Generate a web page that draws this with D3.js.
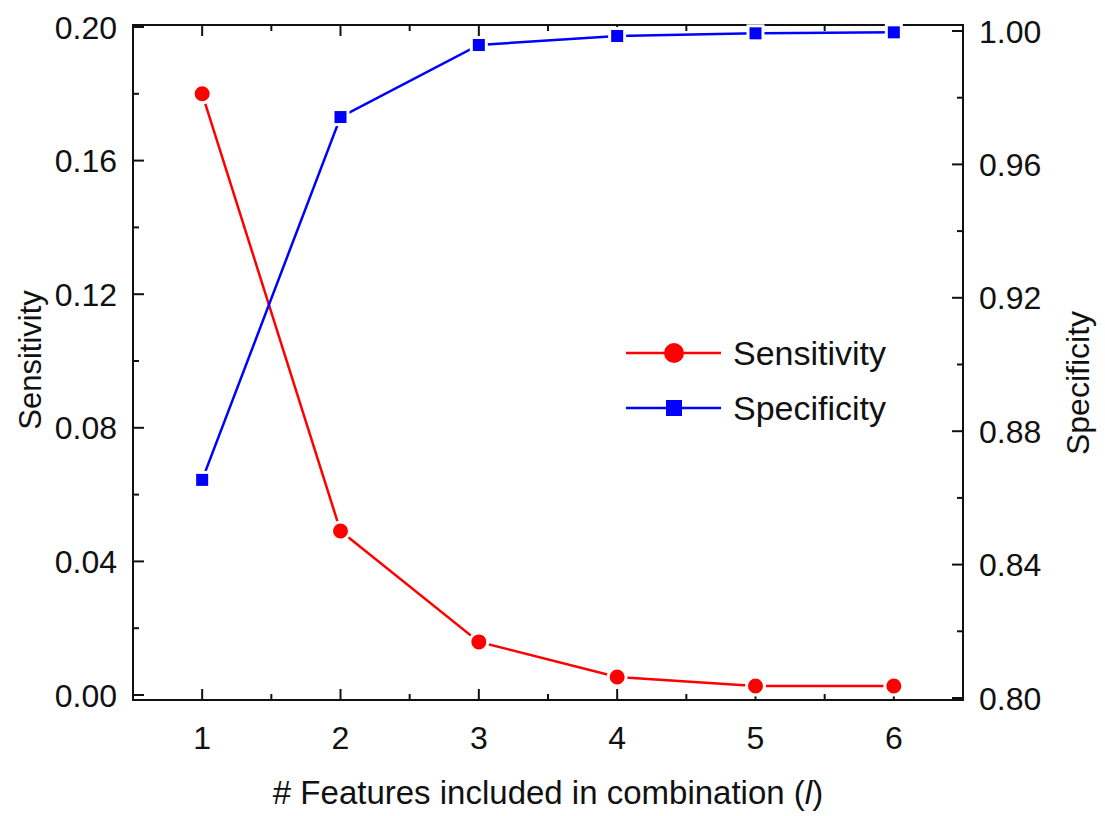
<!DOCTYPE html>
<html>
<head>
<meta charset="utf-8">
<script src="https://d3js.org/d3.v7.min.js"></script>
<style>
  body { margin: 0; background: #fff; }
  svg text { font-family: "Liberation Sans", Arial, sans-serif; fill: #111; }
</style>
</head>
<body>
<svg id="chart" width="1105" height="816"></svg>
<script>
// data
const features = [1, 2, 3, 4, 5, 6];
const sensitivity = [0.180, 0.0491, 0.0159, 0.0054, 0.0027, 0.0027];
const specificity = [0.8654, 0.9742, 0.9958, 0.9985, 0.9993, 0.9996];
const leftTicks = [0.00, 0.04, 0.08, 0.12, 0.16, 0.20];
const rightTicks = [0.80, 0.84, 0.88, 0.92, 0.96, 1.00];

const svg = d3.select("#chart");
const frame = { left: 133, right: 963, top: 25, bottom: 700 };

const x = d3.scaleLinear().domain([0.5, 6.5]).range([frame.left, frame.right]);
const yL = d3.scaleLinear().domain([0, 0.2]).range([695, 27]);
const yR = d3.scaleLinear().domain([0.8, 1.0]).range([698, 31]);

const ink = "#111";
const majorLen = 11, minorLen = 6;

// frame
svg.append("rect")
    .attr("x", frame.left).attr("y", frame.top)
    .attr("width", frame.right - frame.left).attr("height", frame.bottom - frame.top)
    .attr("fill", "none").attr("stroke", ink).attr("stroke-width", 2);

const ticks = svg.append("g").attr("stroke", ink).attr("stroke-width", 2);

// x ticks, bottom and top, pointing inward
const xMinor = d3.range(1.5, 6.5, 1);
features.forEach(v => {
    ticks.append("line").attr("x1", x(v)).attr("x2", x(v)).attr("y1", frame.bottom).attr("y2", frame.bottom - majorLen);
    ticks.append("line").attr("x1", x(v)).attr("x2", x(v)).attr("y1", frame.top).attr("y2", frame.top + majorLen);
});
xMinor.forEach(v => {
    ticks.append("line").attr("x1", x(v)).attr("x2", x(v)).attr("y1", frame.bottom).attr("y2", frame.bottom - minorLen);
    ticks.append("line").attr("x1", x(v)).attr("x2", x(v)).attr("y1", frame.top).attr("y2", frame.top + minorLen);
});

// left ticks
leftTicks.forEach(v => {
    ticks.append("line").attr("x1", frame.left).attr("x2", frame.left + majorLen).attr("y1", yL(v)).attr("y2", yL(v));
});
d3.range(0.02, 0.2, 0.04).forEach(v => {
    ticks.append("line").attr("x1", frame.left).attr("x2", frame.left + minorLen).attr("y1", yL(v)).attr("y2", yL(v));
});

// right ticks
rightTicks.forEach(v => {
    ticks.append("line").attr("x1", frame.right).attr("x2", frame.right - majorLen).attr("y1", yR(v)).attr("y2", yR(v));
});
d3.range(0.82, 1.0, 0.04).forEach(v => {
    ticks.append("line").attr("x1", frame.right).attr("x2", frame.right - minorLen).attr("y1", yR(v)).attr("y2", yR(v));
});

// tick labels
const fs = 32;
svg.append("g").selectAll("text").data(leftTicks).join("text")
    .attr("x", 117).attr("y", d => yL(d)).attr("dy", "0.36em")
    .attr("text-anchor", "end").attr("font-size", fs)
    .text(d => d.toFixed(2));

svg.append("g").selectAll("text").data(rightTicks).join("text")
    .attr("x", 979).attr("y", d => yR(d)).attr("dy", "0.36em")
    .attr("text-anchor", "start").attr("font-size", fs)
    .text(d => d.toFixed(2));

svg.append("g").selectAll("text").data(features).join("text")
    .attr("x", d => x(d)).attr("y", 749)
    .attr("text-anchor", "middle").attr("font-size", fs)
    .text(d => d);

// axis titles
const xTitle = svg.append("text")
    .attr("x", 548).attr("y", 804)
    .attr("text-anchor", "middle").attr("font-size", 33);
xTitle.append("tspan").text("# Features included in combination (");
xTitle.append("tspan").attr("font-style", "italic").text("l");
xTitle.append("tspan").text(")");

svg.append("text")
    .attr("transform", "translate(41,360) rotate(-90)")
    .attr("text-anchor", "middle").attr("font-size", 31)
    .text("Sensitivity");

svg.append("text")
    .attr("transform", "translate(1089,383) rotate(-90)")
    .attr("text-anchor", "middle").attr("font-size", 32)
    .text("Specificity");

// series
const red = "#ff0000", blue = "#0000ff";
const lineL = d3.line().x((d, i) => x(features[i])).y(d => yL(d));
const lineR = d3.line().x((d, i) => x(features[i])).y(d => yR(d));

svg.append("path").datum(sensitivity).attr("d", lineL)
    .attr("fill", "none").attr("stroke", red).attr("stroke-width", 2.5);
svg.append("path").datum(specificity).attr("d", lineR)
    .attr("fill", "none").attr("stroke", blue).attr("stroke-width", 2.5);

svg.append("g").selectAll("circle").data(sensitivity).join("circle")
    .attr("cx", (d, i) => x(features[i])).attr("cy", d => yL(d)).attr("r", 9)
    .attr("fill", red).attr("stroke", "#fff").attr("stroke-width", 3);

const sq = 15;
svg.append("g").selectAll("rect").data(specificity).join("rect")
    .attr("x", (d, i) => x(features[i]) - sq / 2).attr("y", d => yR(d) - sq / 2)
    .attr("width", sq).attr("height", sq)
    .attr("fill", blue).attr("stroke", "#fff").attr("stroke-width", 3);

// legend
const legend = svg.append("g");
const legendRows = [
    { name: "Sensitivity", color: red, shape: "circle", y: 353 },
    { name: "Specificity", color: blue, shape: "square", y: 408 }
];
legendRows.forEach(r => {
    legend.append("line").attr("x1", 626).attr("x2", 721).attr("y1", r.y).attr("y2", r.y)
        .attr("stroke", r.color).attr("stroke-width", 2.5);
    if (r.shape === "circle") {
        legend.append("circle").attr("cx", 674).attr("cy", r.y).attr("r", 10).attr("fill", r.color);
    } else {
        legend.append("rect").attr("x", 674 - 8).attr("y", r.y - 8).attr("width", 16).attr("height", 16).attr("fill", r.color);
    }
    legend.append("text").attr("x", 733).attr("y", r.y).attr("dy", "0.36em")
        .attr("font-size", 34).text(r.name);
});
</script>
</body>
</html>
